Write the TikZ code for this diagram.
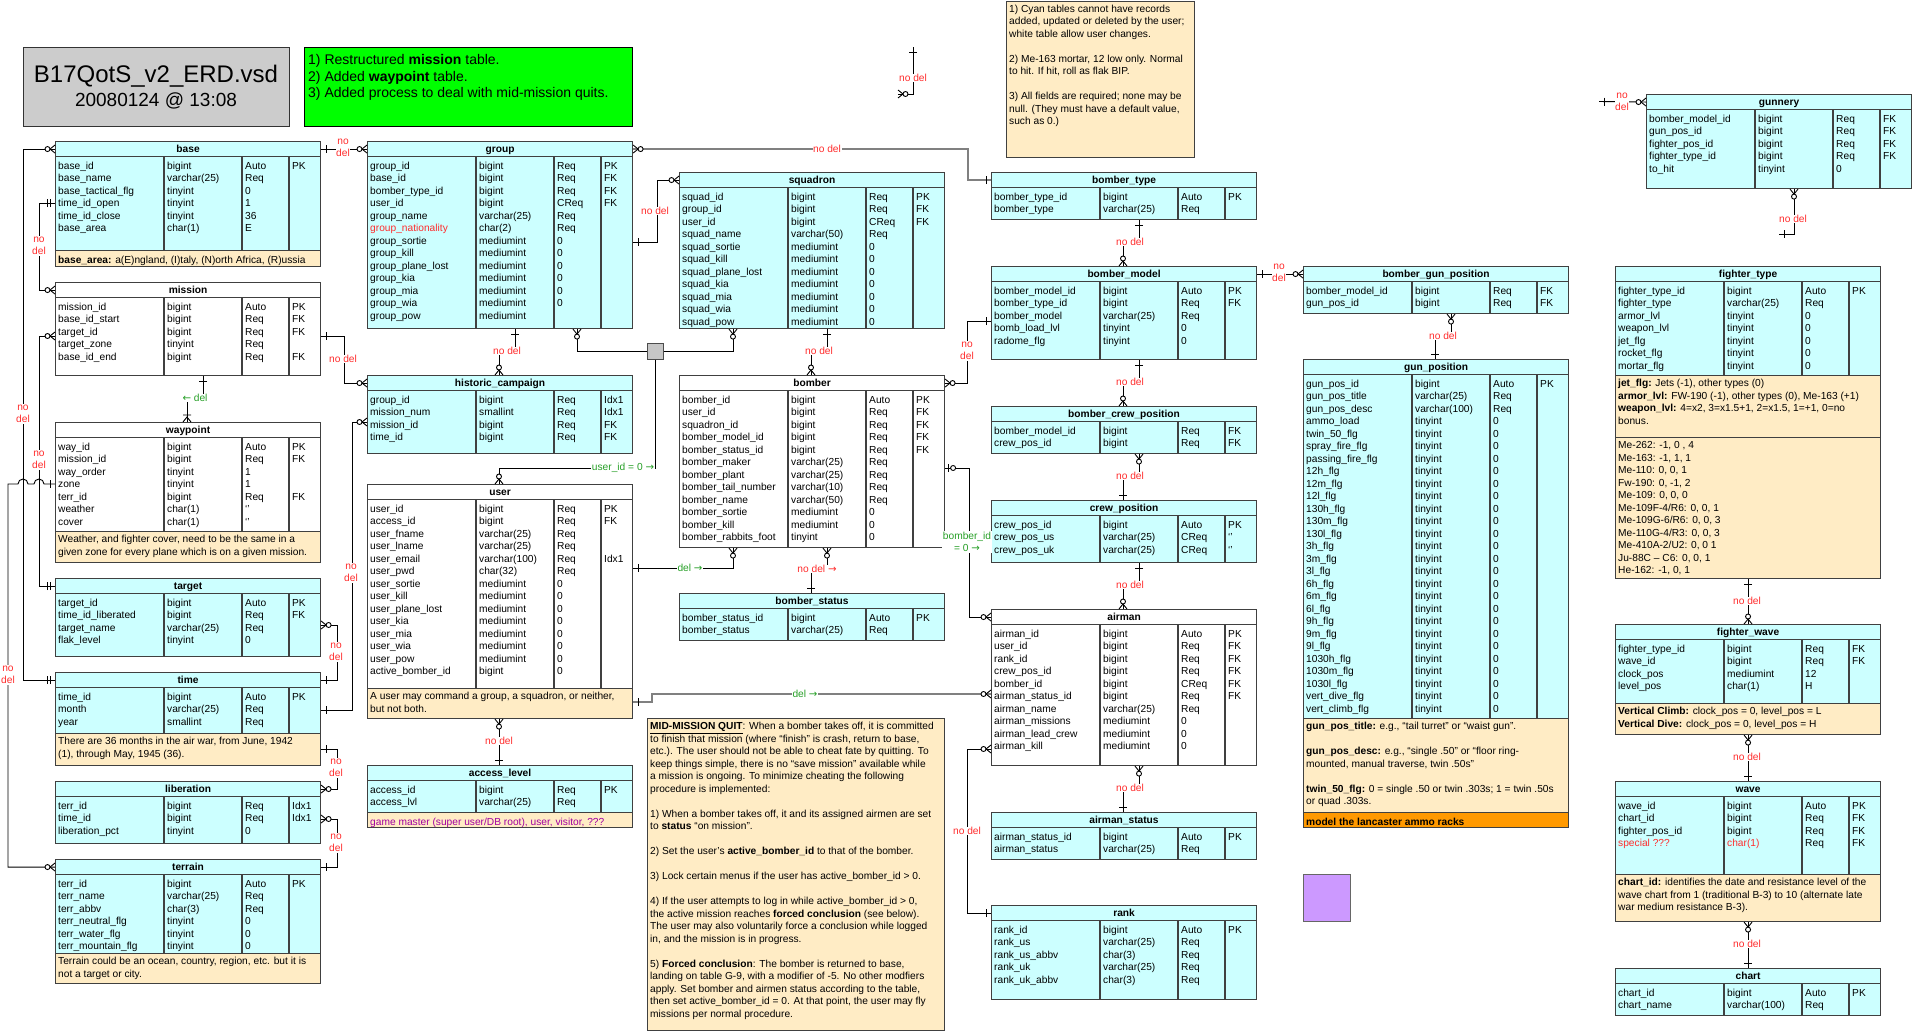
\documentclass[tikz,border=0pt]{standalone}
\usepackage{fontspec}
\setmainfont{Liberation Sans}
\newfontfamily\arrfont{DejaVu Sans}

\definecolor{tabcyan}{RGB}{204,255,255}
\definecolor{notebg}{RGB}{255,236,197}
\definecolor{nodelred}{RGB}{255,45,45}
\definecolor{delgreen}{RGB}{40,160,40}
\definecolor{titlegray}{RGB}{204,204,204}
\definecolor{newsgreen}{RGB}{0,255,0}
\definecolor{racksorange}{RGB}{255,153,0}
\definecolor{lilac}{RGB}{204,153,255}
\definecolor{gmpurple}{RGB}{160,0,160}
\definecolor{boxline}{RGB}{64,64,64}

\newcommand{\tabfont}{\fontsize{10.2}{12.5}\selectfont}
\newcommand{\rarr}{{\arrfont\char"2192}}
\newcommand{\larr}{{\arrfont\char"2190}}

\tikzset{
  tabline/.style={draw=boxline, line width=1.1pt},
  tabhead/.style={draw=boxline, line width=1.1pt, anchor=north west, minimum width=265, minimum height=15, inner sep=0pt, text height=7.5pt, text depth=0pt, font=\tabfont\bfseries},
  tabbody/.style={draw=boxline, line width=1.1pt, anchor=north west, minimum width=265, inner sep=0pt},
  tabrows/.style={anchor=north west, inner sep=0pt, font=\tabfont},
  notebox/.style={draw=boxline, line width=1.1pt, fill=notebg, anchor=north west, inner sep=0pt},
  notetext/.style={anchor=north west, inner sep=0pt, align=left, font=\tabfont, execute at begin node=\strut},
  conn/.style={draw=black, line width=0.9pt},
  connhi/.style={draw=black!50, line width=1.4pt},
  nodel/.style={text=nodelred, fill=white, inner sep=0.6pt, align=center, font=\tabfont},
  okdel/.style={text=delgreen, fill=white, inner sep=0.6pt, align=center, font=\tabfont},
  mkone/.pic={\draw[conn] (-5,-4) -- (-5,4);},
  mktwo/.pic={\draw[conn] (-5,-4) -- (-5,4) (-8,-4) -- (-8,4);},
  mkzmany/.pic={\draw[conn] (0,-4) -- (-5,0) -- (0,4); \draw[conn, fill=white] (-7.5,0) circle[radius=2.5];},
  mkzone/.pic={\draw[conn] (-3,-4) -- (-3,4); \draw[conn, fill=white] (-8,0) circle[radius=2.5];},
  mkomany/.pic={\draw[conn] (0,-4) -- (-5,0) -- (0,4) (-7,-4) -- (-7,4);}
}

% table: name, x, y, body height, fill, title, rows
\newcommand{\erdtab}[7]{%
  \node[tabbody, fill=#5, minimum height=#4] (#1-b) at (#2,#3+15) {};
  \node[tabhead, fill=#5] (#1) at (#2,#3) {#6};
  \foreach \cx in {109,187,234}
    \draw[tabline] (#2+\cx,#3+15) -- ++(0,#4);
  \node[tabrows] (#1-r) at (#2+3,#3+19.25)
    {\begin{tabular}{@{}p{109pt}@{}p{78pt}@{}p{47pt}@{}p{25pt}@{}}#7\end{tabular}};
}
% note: [width], name, x, y, height, text
\newcommand{\erdnote}[6][265]{%
  \node[notebox, minimum width=#1, minimum height=#5] (#2) at (#3,#4) {};
  \node[notetext] (#2-t) at (#3+3,#4+4.25) {#6};
}

\begin{document}
\catcode`\_=12
\begin{tikzpicture}[x=1pt,y=1pt,yscale=-1]
\useasboundingbox (0,0) rectangle (1912,1031);

%Shape: title box
\node[draw=black!80, line width=1.2pt, fill=titlegray, anchor=north west, minimum width=266, minimum height=79, inner sep=0pt] (title) at (23,47) {};
% Text Node
\node[anchor=base, inner sep=0pt, font=\fontsize{24}{28}\selectfont] (titlename) at (156,82.5) {B17QotS_v2_ERD.vsd};
% Text Node
\node[anchor=base, inner sep=0pt, font=\fontsize{19}{22}\selectfont] (titledate) at (156,106.5) {20080124 @ 13:08};

%Shape: change list
\node[draw=black, line width=1.2pt, fill=newsgreen, anchor=north west, minimum width=328, minimum height=79, inner sep=0pt] (news) at (304,47) {};
% Text Node
\node[anchor=base west, inner sep=0pt, font=\fontsize{14}{16.7}\selectfont] (newsA) at (308,64) {1) Restructured \textbf{mission} table.};
\node[anchor=base west, inner sep=0pt, font=\fontsize{14}{16.7}\selectfont] (newsB) at (308,81) {2) Added \textbf{waypoint} table.};
\node[anchor=base west, inner sep=0pt, font=\fontsize{14}{16.7}\selectfont] (newsC) at (308,97.5) {3) Added process to deal with mid-mission quits.};

%Shape: general notes
\erdnote[188]{topnote}{1006}{0.5}{156.5}{1) Cyan tables cannot have records\\added, updated or deleted by the user;\\white table allow user changes.\\[12.5pt]2) Me-163 mortar, 12 low only. Normal\\to hit. If hit, roll as flak BIP.\\[12.5pt]3) All fields are required; none may be\\null. (They must have a default value,\\such as 0.)}

%Table: base
\erdtab{base}{55}{141}{94}{tabcyan}{base}{%
base_id & bigint & Auto & PK\\
base_name & varchar(25) & Req & \\
base_tactical_flg & tinyint & 0 & \\
time_id_open & tinyint & 1 & \\
time_id_close & tinyint & 36 & \\
base_area & char(1) & E & \\}
\erdnote{basenote}{55}{250}{16}{\textbf{base_area:} a(E)ngland, (I)taly, (N)orth Africa, (R)ussia}

%Table: mission
\erdtab{mission}{55}{282}{78}{white}{mission}{%
mission_id & bigint & Auto & PK\\
base_id_start & bigint & Req & FK\\
target_id & bigint & Req & FK\\
target_zone & tinyint & Req & \\
base_id_end & bigint & Req & FK\\}

%Table: waypoint
\erdtab{waypoint}{55}{422}{94}{white}{waypoint}{%
way_id & bigint & Auto & PK\\
mission_id & bigint & Req & FK\\
way_order & tinyint & 1 & \\
zone & tinyint & 1 & \\
terr_id & bigint & Req & FK\\
weather & char(1) & ‘’ & \\
cover & char(1) & ‘’ & \\}
\erdnote{waynote}{55}{531}{31}{Weather, and fighter cover, need to be the same in a\\given zone for every plane which is on a given mission.}

%Table: target
\erdtab{target}{55}{578}{63}{tabcyan}{target}{%
target_id & bigint & Auto & PK\\
time_id_liberated & bigint & Req & FK\\
target_name & varchar(25) & Req & \\
flak_level & tinyint & 0 & \\}

%Table: time
\erdtab{time}{55}{672}{46}{tabcyan}{time}{%
time_id & bigint & Auto & PK\\
month & varchar(25) & Req & \\
year & smallint & Req & \\}
\erdnote{timenote}{55}{733}{32}{There are 36 months in the air war, from June, 1942\\(1), through May, 1945 (36).}

%Table: liberation
\erdtab{liberation}{55}{781}{47}{tabcyan}{liberation}{%
terr_id & bigint & Req & Idx1\\
time_id & bigint & Req & Idx1\\
liberation_pct & tinyint & 0 & \\}

%Table: terrain
\erdtab{terrain}{55}{859}{79}{tabcyan}{terrain}{%
terr_id & bigint & Auto & PK\\
terr_name & varchar(25) & Req & \\
terr_abbv & char(3) & Req & \\
terr_neutral_flg & tinyint & 0 & \\
terr_water_flg & tinyint & 0 & \\
terr_mountain_flg & tinyint & 0 & \\}
\erdnote{terrnote}{55}{953}{30}{Terrain could be an ocean, country, region, etc. but it is\\not a target or city.}

%Table: group
\erdtab{group}{367}{141}{172}{tabcyan}{group}{%
group_id & bigint & Req & PK\\
base_id & bigint & Req & FK\\
bomber_type_id & bigint & Req & FK\\
user_id & bigint & CReq & FK\\
group_name & varchar(25) & Req & \\
\textcolor{nodelred}{group_nationality} & char(2) & Req & \\
group_sortie & mediumint & 0 & \\
group_kill & mediumint & 0 & \\
group_plane_lost & mediumint & 0 & \\
group_kia & mediumint & 0 & \\
group_mia & mediumint & 0 & \\
group_wia & mediumint & 0 & \\
group_pow & mediumint & & \\}

%Table: historic_campaign
\erdtab{historic}{367}{375}{63}{tabcyan}{historic_campaign}{%
group_id & bigint & Req & Idx1\\
mission_num & smallint & Req & Idx1\\
mission_id & bigint & Req & FK\\
time_id & bigint & Req & FK\\}

%Table: user
\erdtab{user}{367}{484}{189}{white}{user}{%
user_id & bigint & Req & PK\\
access_id & bigint & Req & FK\\
user_fname & varchar(25) & Req & \\
user_lname & varchar(25) & Req & \\
user_email & varchar(100) & Req & Idx1\\
user_pwd & char(32) & Req & \\
user_sortie & mediumint & 0 & \\
user_kill & mediumint & 0 & \\
user_plane_lost & mediumint & 0 & \\
user_kia & mediumint & 0 & \\
user_mia & mediumint & 0 & \\
user_wia & mediumint & 0 & \\
user_pow & mediumint & 0 & \\
active_bomber_id & bigint & 0 & \\}
\erdnote{usernote}{367}{688}{30}{A user may command a group, a squadron, or neither,\\but not both.}

%Table: access_level
\erdtab{access}{367}{765}{32}{tabcyan}{access_level}{%
access_id & bigint & Req & PK\\
access_lvl & varchar(25) & Req & \\}
\erdnote{accessnote}{367}{812}{15}{\textcolor{gmpurple}{game master (super user/DB root), user, visitor, ???}}

%Table: squadron
\erdtab{squadron}{679}{172}{141}{tabcyan}{squadron}{%
squad_id & bigint & Req & PK\\
group_id & bigint & Req & FK\\
user_id & bigint & CReq & FK\\
squad_name & varchar(50) & Req & \\
squad_sortie & mediumint & 0 & \\
squad_kill & mediumint & 0 & \\
squad_plane_lost & mediumint & 0 & \\
squad_kia & mediumint & 0 & \\
squad_mia & mediumint & 0 & \\
squad_wia & mediumint & 0 & \\
squad_pow & mediumint & 0 & \\}

%Table: bomber
\erdtab{bomber}{679}{375}{157}{white}{bomber}{%
bomber_id & bigint & Auto & PK\\
user_id & bigint & Req & FK\\
squadron_id & bigint & Req & FK\\
bomber_model_id & bigint & Req & FK\\
bomber_status_id & bigint & Req & FK\\
bomber_maker & varchar(25) & Req & \\
bomber_plant & varchar(25) & Req & \\
bomber_tail_number & varchar(10) & Req & \\
bomber_name & varchar(50) & Req & \\
bomber_sortie & mediumint & 0 & \\
bomber_kill & mediumint & 0 & \\
bomber_rabbits_foot & tinyint & 0 & \\}

%Table: bomber_status
\erdtab{bstatus}{679}{593}{32}{tabcyan}{bomber_status}{%
bomber_status_id & bigint & Auto & PK\\
bomber_status & varchar(25) & Req & \\}

%Shape: mid-mission quit note
\erdnote[297]{quitnote}{647}{718}{312}{\underline{\textbf{MID-MISSION QUIT}}: When a bomber takes off, it is committed\\to finish that mission (where “finish” is crash, return to base,\\etc.). The user should not be able to cheat fate by quitting. To\\keep things simple, there is no “save mission” available while\\a mission is ongoing. To minimize cheating the following\\procedure is implemented:\\[12.5pt]1) When a bomber takes off, it and its assigned airmen are set\\to \textbf{status} “on mission”.\\[12.5pt]2) Set the user’s \textbf{active_bomber_id} to that of the bomber.\\[12.5pt]3) Lock certain menus if the user has active_bomber_id > 0.\\[12.5pt]4) If the user attempts to log in while active_bomber_id > 0,\\the active mission reaches \textbf{forced conclusion} (see below).\\The user may also voluntarily force a conclusion while logged\\in, and the mission is in progress.\\[12.5pt]5) \textbf{Forced conclusion}: The bomber is returned to base,\\landing on table G-9, with a modifier of -5. No other modfiers\\apply. Set bomber and airmen status according to the table,\\then set active_bomber_id = 0. At that point, the user may fly\\missions per normal procedure.}

%Table: bomber_type
\erdtab{btype}{991}{172}{32}{tabcyan}{bomber_type}{%
bomber_type_id & bigint & Auto & PK\\
bomber_type & varchar(25) & Req & \\}

%Table: bomber_model
\erdtab{bmodel}{991}{266}{78}{tabcyan}{bomber_model}{%
bomber_model_id & bigint & Auto & PK\\
bomber_type_id & bigint & Req & FK\\
bomber_model & varchar(25) & Req & \\
bomb_load_lvl & tinyint & 0 & \\
radome_flg & tinyint & 0 & \\}

%Table: bomber_crew_position
\erdtab{bcrew}{991}{406}{32}{tabcyan}{bomber_crew_position}{%
bomber_model_id & bigint & Req & FK\\
crew_pos_id & bigint & Req & FK\\}

%Table: crew_position
\erdtab{crewpos}{991}{500}{47}{tabcyan}{crew_position}{%
crew_pos_id & bigint & Auto & PK\\
crew_pos_us & varchar(25) & CReq & ‘’\\
crew_pos_uk & varchar(25) & CReq & ‘’\\}

%Table: airman
\erdtab{airman}{991}{609}{141}{white}{airman}{%
airman_id & bigint & Auto & PK\\
user_id & bigint & Req & FK\\
rank_id & bigint & Req & FK\\
crew_pos_id & bigint & Req & FK\\
bomber_id & bigint & CReq & FK\\
airman_status_id & bigint & Req & FK\\
airman_name & varchar(25) & Req & \\
airman_missions & mediumint & 0 & \\
airman_lead_crew & mediumint & 0 & \\
airman_kill & mediumint & 0 & \\}

%Table: airman_status
\erdtab{astatus}{991}{812}{32}{tabcyan}{airman_status}{%
airman_status_id & bigint & Auto & PK\\
airman_status & varchar(25) & Req & \\}

%Table: rank
\erdtab{rank}{991}{905}{79}{tabcyan}{rank}{%
rank_id & bigint & Auto & PK\\
rank_us & varchar(25) & Req & \\
rank_us_abbv & char(3) & Req & \\
rank_uk & varchar(25) & Req & \\
rank_uk_abbv & char(3) & Req & \\}

%Table: bomber_gun_position
\erdtab{bgunpos}{1303}{266}{32}{tabcyan}{bomber_gun_position}{%
bomber_model_id & bigint & Req & FK\\
gun_pos_id & bigint & Req & FK\\}

%Table: gun_position
\erdtab{gunpos}{1303}{359}{344}{tabcyan}{gun_position}{%
gun_pos_id & bigint & Auto & PK\\
gun_pos_title & varchar(25) & Req & \\
gun_pos_desc & varchar(100) & Req & \\
ammo_load & tinyint & 0 & \\
twin_50_flg & tinyint & 0 & \\
spray_fire_flg & tinyint & 0 & \\
passing_fire_flg & tinyint & 0 & \\
12h_flg & tinyint & 0 & \\
12m_flg & tinyint & 0 & \\
12l_flg & tinyint & 0 & \\
130h_flg & tinyint & 0 & \\
130m_flg & tinyint & 0 & \\
130l_flg & tinyint & 0 & \\
3h_flg & tinyint & 0 & \\
3m_flg & tinyint & 0 & \\
3l_flg & tinyint & 0 & \\
6h_flg & tinyint & 0 & \\
6m_flg & tinyint & 0 & \\
6l_flg & tinyint & 0 & \\
9h_flg & tinyint & 0 & \\
9m_flg & tinyint & 0 & \\
9l_flg & tinyint & 0 & \\
1030h_flg & tinyint & 0 & \\
1030m_flg & tinyint & 0 & \\
1030l_flg & tinyint & 0 & \\
vert_dive_flg & tinyint & 0 & \\
vert_climb_flg & tinyint & 0 & \\}
\erdnote{gunnote}{1303}{718}{94}{\textbf{gun_pos_title:} e.g., “tail turret” or “waist gun”.\\[12.5pt]\textbf{gun_pos_desc:} e.g., “single .50” or “floor ring-\\mounted, manual traverse, twin .50s”\\[12.5pt]\textbf{twin_50_flg:} 0 = single .50 or twin .303s; 1 = twin .50s\\or quad .303s.}
\node[notebox, fill=racksorange, minimum width=265, minimum height=15] (racks) at (1303,812) {};
% Text Node
\node[notetext, font=\tabfont\bfseries] (racks-t) at (1306,816.25) {model the lancaster ammo racks};

%Shape: lilac square
\node[draw=black!60, line width=1pt, fill=lilac, anchor=north west, minimum size=47, inner sep=0pt] (lilacbox) at (1303,874) {};

%Table: gunnery
\erdtab{gunnery}{1646}{94}{79}{tabcyan}{gunnery}{%
bomber_model_id & bigint & Req & FK\\
gun_pos_id & bigint & Req & FK\\
fighter_pos_id & bigint & Req & FK\\
fighter_type_id & bigint & Req & FK\\
to_hit & tinyint & 0 & \\}

%Table: fighter_type
\erdtab{ftype}{1615}{266}{94}{tabcyan}{fighter_type}{%
fighter_type_id & bigint & Auto & PK\\
fighter_type & varchar(25) & Req & \\
armor_lvl & tinyint & 0 & \\
weapon_lvl & tinyint & 0 & \\
jet_flg & tinyint & 0 & \\
rocket_flg & tinyint & 0 & \\
mortar_flg & tinyint & 0 & \\}
\erdnote{ftnoteA}{1615}{375}{62}{\textbf{jet_flg:} Jets (-1), other types (0)\\\textbf{armor_lvl:} FW-190 (-1), other types (0), Me-163 (+1)\\\textbf{weapon_lvl:} 4=x2, 3=x1.5+1, 2=x1.5, 1=+1, 0=no\\bonus.}
\erdnote{ftnoteB}{1615}{437}{141}{Me-262: -1, 0 , 4\\Me-163: -1, 1, 1\\Me-110: 0, 0, 1\\Fw-190: 0, -1, 2\\Me-109: 0, 0, 0\\Me-109F-4/R6: 0, 0, 1\\Me-109G-6/R6: 0, 0, 3\\Me-110G-4/R3: 0, 0, 3\\Me-410A-2/U2: 0, 0 1\\Ju-88C – C6: 0, 0, 1\\He-162: -1, 0, 1}

%Table: fighter_wave
\erdtab{fwave}{1615}{624}{64}{tabcyan}{fighter_wave}{%
fighter_type_id & bigint & Req & FK\\
wave_id & bigint & Req & FK\\
clock_pos & mediumint & 12 & \\
level_pos & char(1) & H & \\}
\erdnote{fwnote}{1615}{703}{31}{\textbf{Vertical Climb:} clock_pos = 0, level_pos = L\\\textbf{Vertical Dive:} clock_pos = 0, level_pos = H}

%Table: wave
\erdtab{wave}{1615}{781}{78}{tabcyan}{wave}{%
wave_id & bigint & Auto & PK\\
chart_id & bigint & Req & FK\\
fighter_pos_id & bigint & Req & FK\\
\textcolor{nodelred}{special ???} & \textcolor{nodelred}{char(1)} & Req & FK\\}
\erdnote{wavenote}{1615}{874}{47}{\textbf{chart_id:} identifies the date and resistance level of the\\wave chart from 1 (traditional B-3) to 10 (alternate late\\war medium resistance B-3).}

%Table: chart
\erdtab{chart}{1615}{968}{32}{tabcyan}{chart}{%
chart_id & bigint & Auto & PK\\
chart_name & varchar(100) & Req & \\}

%Shape: junction
\node[draw=black!70, line width=1pt, fill=gray!45, minimum size=16, inner sep=0pt] (junc) at (655,351) {};

% free ends
\coordinate (legtop) at (913,47);
\coordinate (legfoot) at (898,94);
\coordinate (gunfreeA) at (1599,101.5);
\coordinate (gunfreeB) at (1779,234);

%Connectors
\draw[conn] (base.east) -- (group.west);
\draw[conn] (base-b.west |- 0,203) -- ++(-16,0) |- (mission.west);
\draw[conn] (time.west) -- ++(-32,0) |- (base.west);
\draw[conn] (mission-b.west |- 0,336) -- ++(-16,0) |- (target.west);
\draw[conn] (waypoint-b.west |- 0,484) -- ++(-11,0) arc[start angle=0, end angle=-180, radius=5] -- ++(-6,0) arc[start angle=0, end angle=-180, radius=5] -- ++(-10,0) |- (terrain.west);
\draw[conn] (mission-b.south -| 203,0) -- ++(0,23) -| (waypoint.north -| 187,0);
\draw[conn] (mission-b.east |- 0,336) -- ++(23,0) |- (historic.west);
\draw[conn] (group-b.south -| 515,0) -- ++(0,23) -| (historic.north -| 499,0);
\draw[conn] (group-b.east |- 0,242) -- ++(24,0) |- (squadron.west);
\draw[connhi] (group.east) -- ++(335,0) |- (btype.west);
\draw[conn] (group-b.south -| 577,0) |- (junc.west);
\draw[conn] (junc.east) -| (squadron-b.south -| 733,0);
\draw[conn] (junc.south) -- ++(0,109) -| (user.north -| 499,0);
\draw[conn] (squadron-b.south -| 827,0) -- ++(0,23) -| (bomber.north -| 811,0);
\draw[conn] (btype-b.south -| 1139,0) -- ++(0,23) -| (bmodel.north -| 1123,0);
\draw[conn] (bmodel.east) -- (bgunpos.west);
\draw[conn] (bmodel-b.west |- 0,321) -- ++(-24,0) |- (bomber.east);
\draw[conn] (bomber-b.east |- 0,468) -- ++(24,0) |- (airman.west);
\draw[conn] (bomber-b.south -| 827,0) -- ++(0,22) -| (bstatus.north -| 811,0);
\draw[conn] (user-b.east |- 0,568) -| (bomber-b.south -| 733,0);
\draw[connhi] (usernote.east |- 0,702) -- ++(19,0) |- (airman-b.west |- 0,694);
\draw[conn] (bmodel-b.south -| 1139,0) -- ++(0,23) -| (bcrew.north -| 1123,0);
\draw[conn] (bcrew-b.south -| 1139,0) -- ++(0,23) -| (crewpos.north -| 1123,0);
\draw[conn] (crewpos-b.south -| 1139,0) -- ++(0,23) -| (airman.north -| 1123,0);
\draw[conn] (airman-b.south -| 1139,0) -- ++(0,23) -| (astatus.north -| 1123,0);
\draw[conn] (airman-b.west |- 0,749) -- ++(-24,0) |- (rank.west);
\draw[conn] (bgunpos-b.south -| 1451,0) -- ++(0,23) -| (gunpos.north -| 1435,0);
\draw[conn] (gunfreeA) -- (gunnery.west);
\draw[conn] (gunnery-b.south -| 1794,0) |- (gunfreeB);
\draw[conn] (ftnoteB.south) -- (fwave.north);
\draw[conn] (fwnote.south) -- (wave.north);
\draw[conn] (wavenote.south) -- (chart.north);
\draw[conn] (target-b.east |- 0,625) -- ++(16,0) |- (time.east);
\draw[conn] (timenote.east |- 0,749) -- ++(16,0) |- (liberation.east);
\draw[conn] (liberation-b.east |- 0,819) -- ++(16,0) |- (terrain.east);
\draw[conn] (time-b.east |- 0,710) -- ++(31,0) |- (historic-b.west |- 0,422);
\draw[conn] (usernote.south -| 499,0) -- (access.north -| 499,0);
\draw[conn] (legtop) |- (legfoot);

%Ends
\pic[rotate=180] at (base.east) {mkone};
\pic at (group.west) {mkzmany};
\pic at (base-b.west |- 0,203) {mktwo};
\pic at (mission.west) {mkzmany};
\pic at (time.west) {mktwo};
\pic at (base.west) {mkzmany};
\pic at (mission-b.west |- 0,336) {mkzmany};
\pic at (target.west) {mktwo};
\pic at (waypoint-b.west |- 0,484) {mkone};
\pic at (terrain.west) {mkzmany};
\pic[rotate=90] at (mission-b.south -| 203,0) {mkone};
\pic[rotate=-90] at (waypoint.north -| 187,0) {mkomany};
\pic[rotate=180] at (mission-b.east |- 0,336) {mkone};
\pic at (historic.west) {mkzmany};
\pic[rotate=90] at (group-b.south -| 515,0) {mkone};
\pic[rotate=-90] at (historic.north -| 499,0) {mkzmany};
\pic[rotate=180] at (group-b.east |- 0,242) {mkone};
\pic at (squadron.west) {mkzmany};
\pic[rotate=180] at (group.east) {mkzmany};
\pic at (btype.west) {mkone};
\pic[rotate=90] at (group-b.south -| 577,0) {mkzmany};
\pic[rotate=90] at (squadron-b.south -| 733,0) {mkzmany};
\pic[rotate=-90] at (user.north -| 499,0) {mkzmany};
\pic[rotate=90] at (squadron-b.south -| 827,0) {mkone};
\pic[rotate=-90] at (bomber.north -| 811,0) {mkzmany};
\pic[rotate=90] at (btype-b.south -| 1139,0) {mkone};
\pic[rotate=-90] at (bmodel.north -| 1123,0) {mkzmany};
\pic[rotate=180] at (bmodel.east) {mkone};
\pic at (bgunpos.west) {mkzmany};
\pic at (bmodel-b.west |- 0,321) {mkone};
\pic[rotate=180] at (bomber.east) {mkzmany};
\pic[rotate=180] at (bomber-b.east |- 0,468) {mkzone};
\pic at (airman.west) {mkzmany};
\pic[rotate=90] at (bomber-b.south -| 827,0) {mkzmany};
\pic[rotate=-90] at (bstatus.north -| 811,0) {mkone};
\pic[rotate=180] at (user-b.east |- 0,568) {mkone};
\pic[rotate=90] at (bomber-b.south -| 733,0) {mkzmany};
\pic[rotate=180] at (usernote.east |- 0,702) {mkone};
\pic at (airman-b.west |- 0,694) {mkzmany};
\pic[rotate=90] at (bmodel-b.south -| 1139,0) {mkone};
\pic[rotate=-90] at (bcrew.north -| 1123,0) {mkzmany};
\pic[rotate=90] at (bcrew-b.south -| 1139,0) {mkzmany};
\pic[rotate=-90] at (crewpos.north -| 1123,0) {mkone};
\pic[rotate=90] at (crewpos-b.south -| 1139,0) {mkone};
\pic[rotate=-90] at (airman.north -| 1123,0) {mkzmany};
\pic[rotate=90] at (airman-b.south -| 1139,0) {mkzmany};
\pic[rotate=-90] at (astatus.north -| 1123,0) {mkone};
\pic at (airman-b.west |- 0,749) {mkzmany};
\pic at (rank.west) {mkone};
\pic[rotate=90] at (bgunpos-b.south -| 1451,0) {mkzmany};
\pic[rotate=-90] at (gunpos.north -| 1435,0) {mkone};
\pic[rotate=180] at (gunfreeA) {mkone};
\pic at (gunnery.west) {mkzmany};
\pic[rotate=90] at (gunnery-b.south -| 1794,0) {mkzmany};
\pic[rotate=180] at (gunfreeB) {mkone};
\pic[rotate=90] at (ftnoteB.south) {mkone};
\pic[rotate=-90] at (fwave.north) {mkzmany};
\pic[rotate=90] at (fwnote.south) {mkzmany};
\pic[rotate=-90] at (wave.north) {mkone};
\pic[rotate=90] at (wavenote.south) {mkzmany};
\pic[rotate=-90] at (chart.north) {mkone};
\pic[rotate=180] at (target-b.east |- 0,625) {mkzmany};
\pic[rotate=180] at (time.east) {mkone};
\pic[rotate=180] at (timenote.east |- 0,749) {mkone};
\pic[rotate=180] at (liberation.east) {mkzmany};
\pic[rotate=180] at (liberation-b.east |- 0,819) {mkzmany};
\pic[rotate=180] at (terrain.east) {mkone};
\pic[rotate=180] at (time-b.east |- 0,710) {mkone};
\pic at (historic-b.west |- 0,422) {mkzmany};
\pic[rotate=90] at (usernote.south -| 499,0) {mkzmany};
\pic[rotate=-90] at (access.north -| 499,0) {mkone};
\pic[rotate=90] at (legtop) {mkone};
\pic[rotate=180] at (legfoot) {mkzmany};

%Labels
\node[nodel] (lbA) at (343,148) {no\\del};
\node[nodel] (lbB) at (39,246) {no\\del};
\node[nodel] (lbC) at (23,414) {no\\del};
\node[nodel] (lbD) at (39,460) {no\\del};
\node[nodel] (lbE) at (8,675) {no\\del};
\node[okdel] (lbF) at (195,398) {\larr\ del};
\node[nodel] (lbG) at (343,359) {no del};
\node[nodel] (lbH) at (507,351) {no del};
\node[nodel] (lbI) at (655,211) {no del};
\node[nodel] (lbJ) at (827,149) {no del};
\node[okdel] (lbK) at (623,468) {user_id = 0 \rarr};
\node[nodel] (lbL) at (819,351) {no del};
\node[nodel] (lbM) at (1130,242) {no del};
\node[nodel] (lbN) at (1279,273) {no\\del};
\node[nodel] (lbO) at (967,351) {no\\del};
\node[okdel] (lbP) at (967,542) {bomber_id\\= 0 \rarr};
\node[nodel] (lbQ) at (817,569) {no del \rarr};
\node[okdel] (lbR) at (690,568) {del \rarr};
\node[okdel] (lbS) at (805,694) {del \rarr};
\node[nodel] (lbT) at (1130,476) {no del};
\node[nodel] (lbU) at (1130,382) {no del};
\node[nodel] (lbV) at (1130,585) {no del};
\node[nodel] (lbW) at (1130,788) {no del};
\node[nodel] (lbX) at (967,831) {no del};
\node[nodel] (lbY) at (1443,336) {no del};
\node[nodel] (lbZ) at (1622,102) {no\\del};
\node[nodel] (lbAA) at (1793,219) {no del};
\node[nodel] (lbBB) at (1747,601) {no del};
\node[nodel] (lbCC) at (1747,757) {no del};
\node[nodel] (lbDD) at (1747,944) {no del};
\node[nodel] (lbEE) at (336,652) {no\\del};
\node[nodel] (lbFF) at (336,768) {no\\del};
\node[nodel] (lbGG) at (336,843) {no\\del};
\node[nodel] (lbHH) at (351,573) {no\\del};
\node[nodel] (lbII) at (499,741) {no del};
\node[nodel] (lbLeg) at (913,78) {no del};

\end{tikzpicture}
\end{document}
